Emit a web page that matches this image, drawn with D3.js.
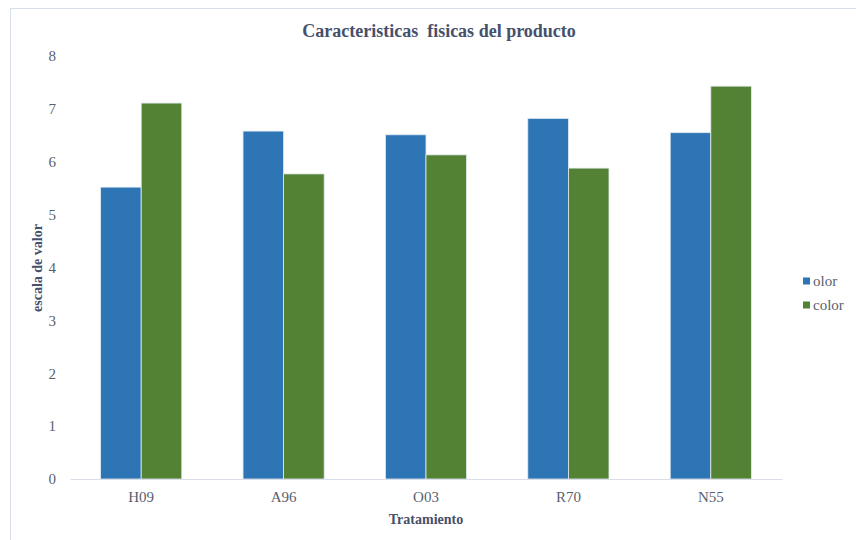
<!DOCTYPE html>
<html>
<head>
<meta charset="utf-8">
<script src="https://cdn.jsdelivr.net/npm/d3@7"></script>
<style>
  html, body { margin: 0; padding: 0; background: #ffffff; }
  svg { display: block; }
  svg text { font-family: "Liberation Serif", "Times New Roman", Times, "DejaVu Serif", serif !important; }
</style>
</head>
<body>
<svg id="chart" width="856" height="540"></svg>
<script>
// Treatments and the two rated characteristics
const categories = ["H09", "A96", "O03", "R70", "N55"];
const seriesNames = ["olor", "color"];
const olorValues = [5.52, 6.58, 6.51, 6.82, 6.55];
const colorValues = [7.11, 5.77, 6.13, 5.88, 7.43];
const yTicks = [0, 1, 2, 3, 4, 5, 6, 7, 8];
const seriesColors = ["#2e75b6", "#548235"];

const FONT = "'Liberation Serif', 'Times New Roman', Times, 'DejaVu Serif', serif";

const svg = d3.select("#chart");

// outer frame of the chart area
svg.append("rect")
  .attr("x", 10.5).attr("y", 8.5)
  .attr("width", 900).attr("height", 600)
  .attr("fill", "#ffffff")
  .attr("stroke", "#d9dfe8").attr("stroke-width", 1);

const plot = { left: 70, right: 782, top: 56, bottom: 479 };

const x = d3.scaleBand()
  .domain(categories)
  .range([plot.left, plot.right])
  .paddingInner(0.43)
  .paddingOuter(0.215);

const xSub = d3.scaleBand()
  .domain(seriesNames)
  .range([0, x.bandwidth()]);

const y = d3.scaleLinear()
  .domain([0, 8])
  .range([plot.bottom, plot.top]);

const rows = categories.map((c, i) => ({
  category: c,
  values: [
    { name: "olor", value: olorValues[i] },
    { name: "color", value: colorValues[i] }
  ]
}));

const color = d3.scaleOrdinal().domain(seriesNames).range(seriesColors);

// bars
const groups = svg.append("g").selectAll("g")
  .data(rows)
  .join("g")
  .attr("transform", d => `translate(${x(d.category)},0)`);

groups.selectAll("rect")
  .data(d => d.values)
  .join("rect")
  .attr("x", d => xSub(d.name))
  .attr("y", d => y(d.value))
  .attr("width", xSub.bandwidth())
  .attr("height", d => y(0) - y(d.value))
  .attr("fill", d => color(d.name))
  .attr("stroke", "#e3ebf3")
  .attr("stroke-width", 0.8);

// y axis (labels only)
const yAxis = d3.axisLeft(y)
  .tickValues(yTicks)
  .tickFormat(d3.format("d"))
  .tickSize(0)
  .tickPadding(14);

svg.append("g")
  .attr("transform", `translate(${plot.left},0)`)
  .call(yAxis)
  .attr("font-family", FONT)
  .call(g => g.select(".domain").remove())
  .call(g => g.selectAll("text")
    .attr("fill", "#595f6e")
    .attr("font-size", 15)
    .style("font-family", FONT));

// x axis
const xAxis = d3.axisBottom(x).tickSize(0).tickPadding(12);
svg.append("g")
  .attr("transform", `translate(0,${plot.bottom})`)
  .call(xAxis)
  .attr("font-family", FONT)
  .call(g => g.select(".domain")
    .attr("stroke", "#d9dee8").attr("stroke-width", 1.2))
  .call(g => g.selectAll("text")
    .attr("fill", "#595f6e")
    .attr("font-size", 15)
    .style("font-family", FONT));

// title
svg.append("text")
  .attr("x", 439).attr("y", 37)
  .attr("text-anchor", "middle")
  .attr("font-size", 18)
  .attr("font-weight", "bold")
  .attr("fill", "#46506a")
  .style("font-family", FONT)
  .style("white-space", "pre")
  .text("Caracteristicas  fisicas del producto");

// axis titles
svg.append("text")
  .attr("x", (plot.left + plot.right) / 2).attr("y", 524)
  .attr("text-anchor", "middle")
  .attr("font-size", 14)
  .attr("font-weight", "bold")
  .attr("fill", "#46506a")
  .style("font-family", FONT)
  .text("Tratamiento");

svg.append("text")
  .attr("transform", "translate(42,268) rotate(-90)")
  .attr("text-anchor", "middle")
  .attr("font-size", 14)
  .attr("font-weight", "bold")
  .attr("fill", "#46506a")
  .style("font-family", FONT)
  .text("escala de valor");

// legend
const legend = svg.append("g")
  .selectAll("g")
  .data(seriesNames)
  .join("g")
  .attr("transform", (d, i) => `translate(803,${281 + i * 24})`);

legend.append("rect")
  .attr("x", 0).attr("y", -3.5)
  .attr("width", 7).attr("height", 7)
  .attr("fill", d => color(d));

legend.append("text")
  .attr("x", 10).attr("y", 5)
  .attr("font-size", 15)
  .attr("fill", "#595f6e")
  .style("font-family", FONT)
  .text(d => d);
</script>
</body>
</html>
